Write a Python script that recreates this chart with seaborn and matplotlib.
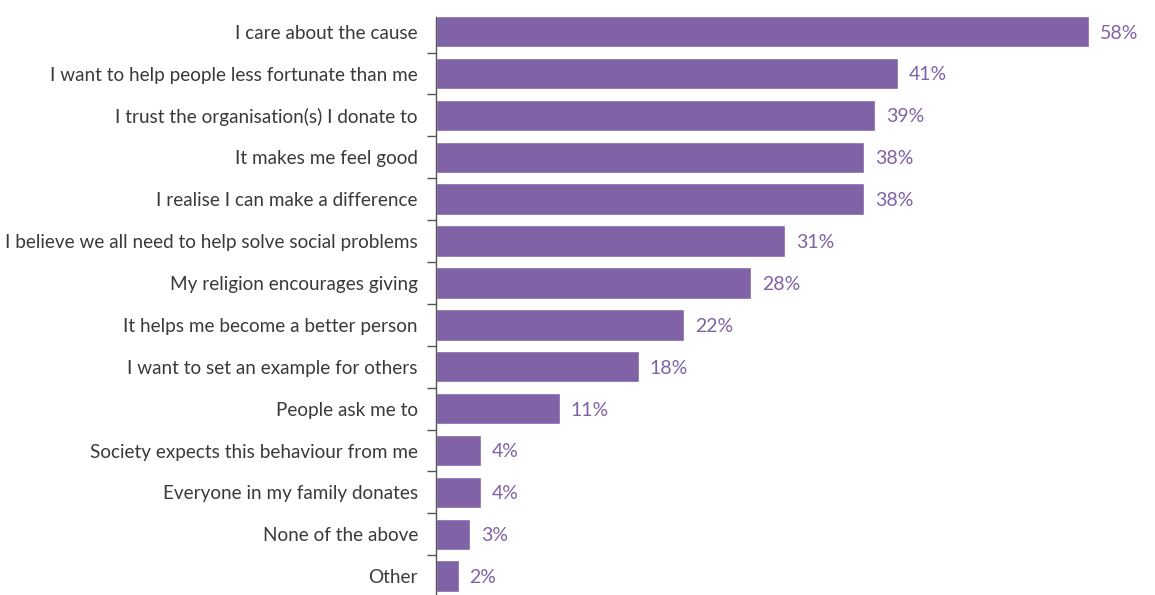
import matplotlib
matplotlib.use("Agg")
import matplotlib.pyplot as plt
import seaborn as sns
import pandas as pd
from matplotlib.ticker import FixedLocator

categories = [
    "I care about the cause",
    "I want to help people less fortunate than me",
    "I trust the organisation(s) I donate to",
    "It makes me feel good",
    "I realise I can make a difference",
    "I believe we all need to help solve social problems",
    "My religion encourages giving",
    "It helps me become a better person",
    "I want to set an example for others",
    "People ask me to",
    "Society expects this behaviour from me",
    "Everyone in my family donates",
    "None of the above",
    "Other",
]
values = [58, 41, 39, 38, 38, 31, 28, 22, 18, 11, 4, 4, 3, 2]

BAR = "#8062A6"
df = pd.DataFrame({"reason": categories, "pct": values})

sns.set_theme(style="white")
plt.rcParams["font.family"] = ["Lato", "DejaVu Sans"]

fig = plt.figure(figsize=(11.55, 5.95), dpi=100)
ax = fig.add_axes([436 / 1155, 0, (1146 - 436) / 1155, 578 / 595])

sns.barplot(data=df, y="reason", x="pct", color=BAR, saturation=1, width=0.75, ax=ax, orient="h")

ax.set_xlim(0, 58 * 710 / 653)
ax.set_ylim(len(categories) - 1 + 0.45, -0.35)

for i, v in enumerate(values):
    ax.annotate(f"{v}%", xy=(v, i), xytext=(8, -1), textcoords="offset points",
                va="center", ha="left", color=BAR, fontsize=14)

for s in ["top", "right", "bottom"]:
    ax.spines[s].set_visible(False)
ax.spines["left"].set_color("#555555")
ax.spines["left"].set_linewidth(1.0)
ax.set_xticks([])
ax.set_xlabel("")
ax.set_ylabel("")
ax.yaxis.set_minor_locator(FixedLocator([i + 0.5 for i in range(len(categories) - 1)]))
ax.tick_params(axis="y", which="major", length=0, pad=13, labelsize=13.6, labelcolor="#3a3a3a")
ax.tick_params(axis="y", which="minor", length=6.5, width=1, color="#555555", left=True)

fig.savefig("out.png", dpi=100)
